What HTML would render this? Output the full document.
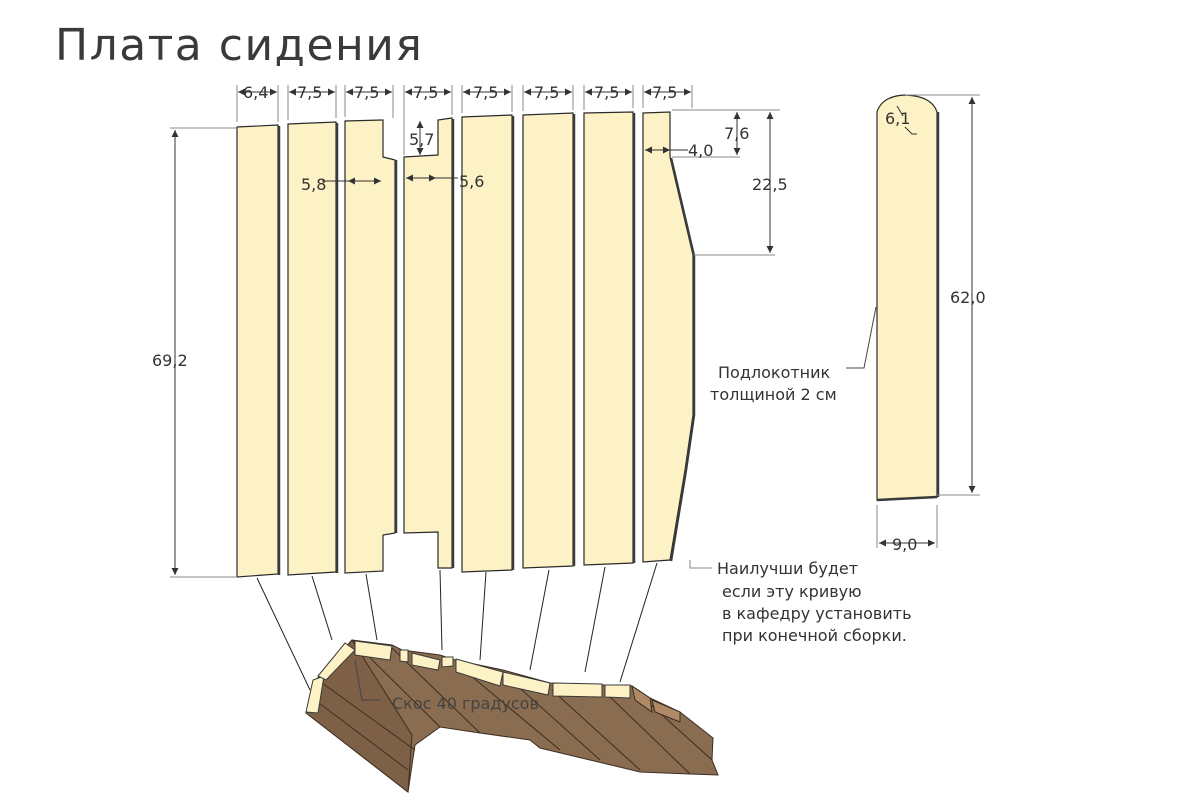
<!DOCTYPE html>
<html><head><meta charset="utf-8"><style>
html,body{margin:0;padding:0;background:#fff}
svg{display:block}
text{font-family:"DejaVu Sans","Liberation Sans",sans-serif;fill:#333}
</style></head><body>
<svg width="1198" height="808" viewBox="0 0 1198 808" xmlns="http://www.w3.org/2000/svg">
<defs>
<marker id="a" viewBox="0 0 10 10" refX="10" refY="5" markerWidth="9" markerHeight="7" orient="auto-start-reverse"><path d="M0,0L10,5L0,10z" fill="#333"/></marker>
</defs>
<text x="55" y="60" font-size="44" letter-spacing="1.5" style="fill:#3a3a3a;font-family:'DejaVu Sans',sans-serif">Плата сидения</text>

<g fill="#fdf2c6" stroke="#2a2a2a" stroke-width="1.2">
<path d="M237,127 L278,125 L278,574 L237,577Z"/>
<path d="M288,124 L336,122 L336,572 L288,575Z"/>
<path d="M345,121 L383,120 L383,157 L395,160 L395,533 L383,535 L383,571 L345,573Z"/>
<path d="M404,157 L438,155 L438,120 L452,118 L452,568 L438,568 L438,532 L404,533Z"/>
<path d="M462,117 L512,115 L512,570 L462,572Z"/>
<path d="M523,115 L573,113 L573,566 L523,568Z"/>
<path d="M584,113 L633,112 L633,563 L584,565Z"/>
<path d="M643,113 L670,112 L670,157 L693,255 L693,415 L685,470 L670,560 L643,562Z"/>
<path d="M877,112 Q882,96 905,95 Q932,96 937,112 L937,497 L877,500Z"/>
</g>
<g stroke="#3a3a3a" stroke-width="2.5" fill="none">
<path d="M279,126 L279,575"/><path d="M337,123 L337,573"/><path d="M396,160 L396,533"/><path d="M453,119 L453,568"/>
<path d="M513,116 L513,570"/><path d="M574,114 L574,566"/><path d="M634,113 L634,563"/><path d="M671,158 L694,256 L694,415 L686,470 L671,561"/>
<path d="M938,112 L938,497"/><path d="M877,500 L937,497"/>
</g>

<g stroke="#888" stroke-width="1" fill="none">
<path d="M237,85 V122 M278,85 V122 M288,85 V120 M336,85 V118 M345,85 V117 M393,85 V118 M404,85 V155 M452,85 V115 M462,85 V113 M512,85 V112 M523,85 V111 M573,85 V110 M584,85 V110 M633,85 V108 M643,85 V108 M692,85 V108"/>
<path d="M170,128 H237 M170,577 H237 M672,110 H780 M740,157 H672 M694,255 H775 M905,95 H980 M937,495 H980 M877,505 V548 M937,505 V548"/>
<path d="M690,560 V568 H712"/>
</g>
<path d="M876,307 L864,368 H846" stroke="#444" fill="none"/>
<path d="M897,106 L903,116 M905,127 L912,134 H917" stroke="#333" fill="none"/>
<g stroke="#333" stroke-width="1" fill="none" marker-start="url(#a)" marker-end="url(#a)">
<path d="M238,92 H277"/><path d="M289,92 H335"/><path d="M346,92 H392"/><path d="M405,92 H451"/><path d="M463,92 H511"/><path d="M524,92 H572"/><path d="M585,92 H632"/><path d="M644,92 H691"/>
<path d="M175,130 V575"/><path d="M972,97 V493"/><path d="M770,112 V253"/><path d="M737,112 V155"/>
<path d="M879,543 H935"/><path d="M348,181 H381"/><path d="M406,178 H436"/><path d="M420,121 V155"/><path d="M645,150 H670"/>
</g>
<path d="M322,181 H348 M436,178 H458 M670,150 H688" stroke="#333" fill="none"/>
<g font-size="16">
<text x="243" y="98">6,4</text><text x="297" y="98">7,5</text><text x="354" y="98">7,5</text><text x="413" y="98">7,5</text><text x="473" y="98">7,5</text><text x="534" y="98">7,5</text><text x="594" y="98">7,5</text><text x="652" y="98">7,5</text>
<text x="152" y="366">69,2</text><text x="950" y="303">62,0</text><text x="752" y="190">22,5</text><text x="724" y="139">7,6</text><text x="688" y="156">4,0</text>
<text x="301" y="190">5,8</text><text x="459" y="187">5,6</text><text x="409" y="145">5,7</text><text x="885" y="124">6,1</text><text x="892" y="550">9,0</text>
<text x="718" y="378">Подлокотник</text><text x="710" y="400">толщиной 2 см</text>
<text x="717" y="574">Наилучши будет</text><text x="722" y="597">если эту кривую</text><text x="722" y="619">в кафедру установить</text><text x="722" y="641">при конечной сборки.</text>
</g>

<g stroke="#222" stroke-width="1" fill="none">
<path d="M257,578 L310,690 M312,576 L332,640 M366,574 L377,640 M440,570 L442,650 M486,572 L480,660 M549,570 L530,670 M605,567 L585,672 M657,563 L620,682"/>
</g>
<g stroke="#3a2e22" stroke-width="1">
<path d="M316,680 L352,640 L392,645 L402,650 L440,655 L455,660 L503,670 L550,683 L632,686 L650,698 L680,712 L713,738 L712,760 L718,775 L690,774 L640,772 L590,760 L540,748 L530,740 L480,733 L440,727 L415,745 L408,792 L306,713 Z" fill="#8a6c50"/>
<path d="M306,713 L316,680 L352,640 L412,735 L408,792 Z" fill="#7e6046"/>
<path d="M352,640 L440,727" fill="none"/>
<path d="M318,680 L415,750" fill="none"/>
<path d="M315,700 L408,770" fill="none"/>
<path d="M392,648 L480,733 M458,665 L560,750 M503,673 L600,760 M552,690 L640,770 M605,692 L690,774 M640,695 L712,760" fill="none"/>
<path d="M632,686 L650,698 L652,712 L635,700Z M652,700 L680,712 L680,722 L655,712Z" fill="#b08a66"/>
</g>
<g fill="#fdf2c6" stroke="#3a3a3a" stroke-width="1">
<path d="M306,712 L313,680 L324,676 L318,713Z"/>
<path d="M318,676 L345,643 L355,650 L326,680Z"/>
<path d="M355,641 L392,646 L390,660 L355,655Z"/>
<path d="M400,650 L408,650 L408,662 L400,661Z"/>
<path d="M412,653 L440,660 L438,670 L412,665Z"/>
<path d="M442,657 L453,657 L453,666 L442,667Z"/>
<path d="M456,659 L503,672 L500,686 L456,672Z"/>
<path d="M503,672 L550,683 L548,695 L503,685Z"/>
<path d="M553,683 L602,684 L602,697 L553,696Z"/>
<path d="M605,685 L630,685 L630,698 L605,697Z"/>
</g>
<path d="M355,660 L362,700 H380" stroke="#444" fill="none"/>
<text x="392" y="709" font-size="16" style="fill:#444">Скос 40 градусов</text>
</svg>
</body></html>
